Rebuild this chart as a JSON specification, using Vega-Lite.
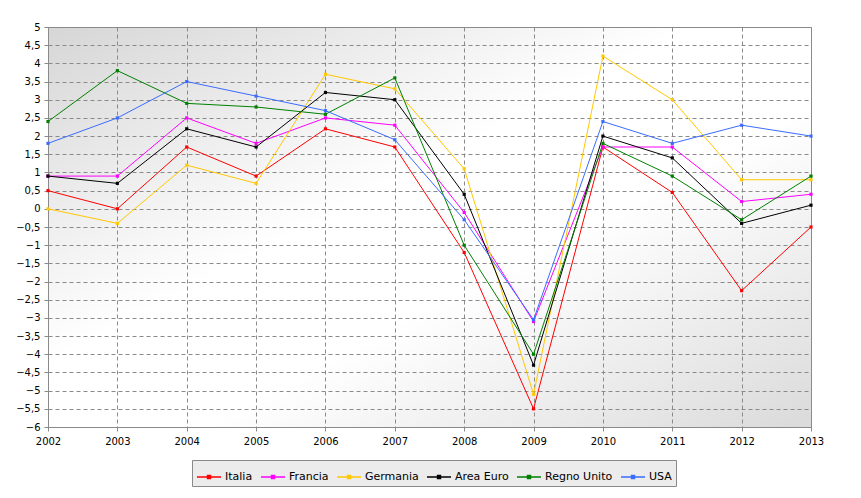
{
  "$schema": "https://vega.github.io/schema/vega-lite/v6.json",
  "width": 763,
  "height": 400,
  "autosize": {"type": "none"},
  "padding": {"left": 48, "top": 27, "right": 50, "bottom": 71},
  "background": "#ffffff",
  "config": {
    "view": {
      "stroke": "#8a8a8a",
      "strokeWidth": 1,
      "fill": {
        "gradient": "linear",
        "x1": 0, "y1": 0, "x2": 1, "y2": 1,
        "stops": [
          {"offset": 0, "color": "#d6d6d6"},
          {"offset": 0.42, "color": "#ffffff"},
          {"offset": 0.6, "color": "#ffffff"},
          {"offset": 1, "color": "#dadada"}
        ]
      }
    },
    "font": "DejaVu Sans",
    "axis": {
      "labelFont": "DejaVu Sans",
      "labelFontSize": 10,
      "labelColor": "#000000",
      "domainColor": "#8a8a8a",
      "tickColor": "#8a8a8a",
      "tickSize": 4,
      "gridColor": "#8a8a8a",
      "gridDash": [4, 3],
      "gridOpacity": 1,
      "gridWidth": 1,
      "labelOverlap": false,
      "title": null
    }
  },
  "data": {"name": "pil"},
  "datasets": {
    "pil": [
      {"anno": 2002, "paese": "Italia", "valore": 0.5},
      {"anno": 2003, "paese": "Italia", "valore": 0.0},
      {"anno": 2004, "paese": "Italia", "valore": 1.7},
      {"anno": 2005, "paese": "Italia", "valore": 0.9},
      {"anno": 2006, "paese": "Italia", "valore": 2.2},
      {"anno": 2007, "paese": "Italia", "valore": 1.7},
      {"anno": 2008, "paese": "Italia", "valore": -1.2},
      {"anno": 2009, "paese": "Italia", "valore": -5.5},
      {"anno": 2010, "paese": "Italia", "valore": 1.7},
      {"anno": 2011, "paese": "Italia", "valore": 0.45},
      {"anno": 2012, "paese": "Italia", "valore": -2.25},
      {"anno": 2013, "paese": "Italia", "valore": -0.5},
      {"anno": 2002, "paese": "Francia", "valore": 0.9},
      {"anno": 2003, "paese": "Francia", "valore": 0.9},
      {"anno": 2004, "paese": "Francia", "valore": 2.5},
      {"anno": 2005, "paese": "Francia", "valore": 1.8},
      {"anno": 2006, "paese": "Francia", "valore": 2.5},
      {"anno": 2007, "paese": "Francia", "valore": 2.3},
      {"anno": 2008, "paese": "Francia", "valore": -0.1},
      {"anno": 2009, "paese": "Francia", "valore": -3.1},
      {"anno": 2010, "paese": "Francia", "valore": 1.7},
      {"anno": 2011, "paese": "Francia", "valore": 1.7},
      {"anno": 2012, "paese": "Francia", "valore": 0.2},
      {"anno": 2013, "paese": "Francia", "valore": 0.4},
      {"anno": 2002, "paese": "Germania", "valore": 0.0},
      {"anno": 2003, "paese": "Germania", "valore": -0.4},
      {"anno": 2004, "paese": "Germania", "valore": 1.2},
      {"anno": 2005, "paese": "Germania", "valore": 0.7},
      {"anno": 2006, "paese": "Germania", "valore": 3.7},
      {"anno": 2007, "paese": "Germania", "valore": 3.3},
      {"anno": 2008, "paese": "Germania", "valore": 1.1},
      {"anno": 2009, "paese": "Germania", "valore": -5.1},
      {"anno": 2010, "paese": "Germania", "valore": 4.2},
      {"anno": 2011, "paese": "Germania", "valore": 3.0},
      {"anno": 2012, "paese": "Germania", "valore": 0.8},
      {"anno": 2013, "paese": "Germania", "valore": 0.8},
      {"anno": 2002, "paese": "Area Euro", "valore": 0.9},
      {"anno": 2003, "paese": "Area Euro", "valore": 0.7},
      {"anno": 2004, "paese": "Area Euro", "valore": 2.2},
      {"anno": 2005, "paese": "Area Euro", "valore": 1.7},
      {"anno": 2006, "paese": "Area Euro", "valore": 3.2},
      {"anno": 2007, "paese": "Area Euro", "valore": 3.0},
      {"anno": 2008, "paese": "Area Euro", "valore": 0.4},
      {"anno": 2009, "paese": "Area Euro", "valore": -4.3},
      {"anno": 2010, "paese": "Area Euro", "valore": 2.0},
      {"anno": 2011, "paese": "Area Euro", "valore": 1.4},
      {"anno": 2012, "paese": "Area Euro", "valore": -0.4},
      {"anno": 2013, "paese": "Area Euro", "valore": 0.1},
      {"anno": 2002, "paese": "Regno Unito", "valore": 2.4},
      {"anno": 2003, "paese": "Regno Unito", "valore": 3.8},
      {"anno": 2004, "paese": "Regno Unito", "valore": 2.9},
      {"anno": 2005, "paese": "Regno Unito", "valore": 2.8},
      {"anno": 2006, "paese": "Regno Unito", "valore": 2.6},
      {"anno": 2007, "paese": "Regno Unito", "valore": 3.6},
      {"anno": 2008, "paese": "Regno Unito", "valore": -1.0},
      {"anno": 2009, "paese": "Regno Unito", "valore": -4.0},
      {"anno": 2010, "paese": "Regno Unito", "valore": 1.8},
      {"anno": 2011, "paese": "Regno Unito", "valore": 0.9},
      {"anno": 2012, "paese": "Regno Unito", "valore": -0.3},
      {"anno": 2013, "paese": "Regno Unito", "valore": 0.9},
      {"anno": 2002, "paese": "USA", "valore": 1.8},
      {"anno": 2003, "paese": "USA", "valore": 2.5},
      {"anno": 2004, "paese": "USA", "valore": 3.5},
      {"anno": 2005, "paese": "USA", "valore": 3.1},
      {"anno": 2006, "paese": "USA", "valore": 2.7},
      {"anno": 2007, "paese": "USA", "valore": 1.9},
      {"anno": 2008, "paese": "USA", "valore": -0.3},
      {"anno": 2009, "paese": "USA", "valore": -3.05},
      {"anno": 2010, "paese": "USA", "valore": 2.4},
      {"anno": 2011, "paese": "USA", "valore": 1.8},
      {"anno": 2012, "paese": "USA", "valore": 2.3},
      {"anno": 2013, "paese": "USA", "valore": 2.0}
    ]
  },
  "encoding": {
    "x": {
      "field": "anno", "type": "quantitative",
      "scale": {"domain": [2002, 2013], "nice": false, "zero": false},
      "axis": {
        "values": [2002, 2003, 2004, 2005, 2006, 2007, 2008, 2009, 2010, 2011, 2012, 2013],
        "format": "d",
        "labelPadding": 5,
        "labelFlush": false,
        "grid": true
      }
    },
    "y": {
      "field": "valore", "type": "quantitative",
      "scale": {"domain": [-6, 5], "nice": false, "zero": false},
      "axis": {
        "values": [-6, -5.5, -5, -4.5, -4, -3.5, -3, -2.5, -2, -1.5, -1, -0.5, 0, 0.5, 1, 1.5, 2, 2.5, 3, 3.5, 4, 4.5, 5],
        "format": ".1~f",
        "labelExpr": "replace(datum.label, '.', ',')",
        "labelPadding": 4,
        "labelFlush": false,
        "grid": true
      }
    },
    "color": {
      "field": "paese", "type": "nominal",
      "scale": {
        "domain": ["Italia", "Francia", "Germania", "Area Euro", "Regno Unito", "USA"],
        "range": ["#ff0000", "#ff00ff", "#ffc800", "#000000", "#008000", "#3a6cff"]
      },
      "legend": {
        "title": null,
        "orient": "none",
        "direction": "horizontal",
        "legendX": 144,
        "legendY": 433,
        "columns": 6,
        "fillColor": "#ececec",
        "strokeColor": "#8a8a8a",
        "padding": 4,
        "symbolType": "M-1,0H1M-0.13,-0.13H0.13V0.13H-0.13Z",
        "symbolSize": 576,
        "symbolStrokeWidth": 1.3,
        "labelFont": "DejaVu Sans",
        "labelFontSize": 11,
        "labelColor": "#000000",
        "labelOffset": 3,
        "columnPadding": 5
      }
    }
  },
  "layer": [
    {
      "mark": {"type": "line", "strokeWidth": 1},
      "encoding": {"detail": {"field": "paese"}}
    },
    {
      "mark": {"type": "point", "shape": "square", "filled": true, "size": 10, "opacity": 1}
    }
  ]
}
